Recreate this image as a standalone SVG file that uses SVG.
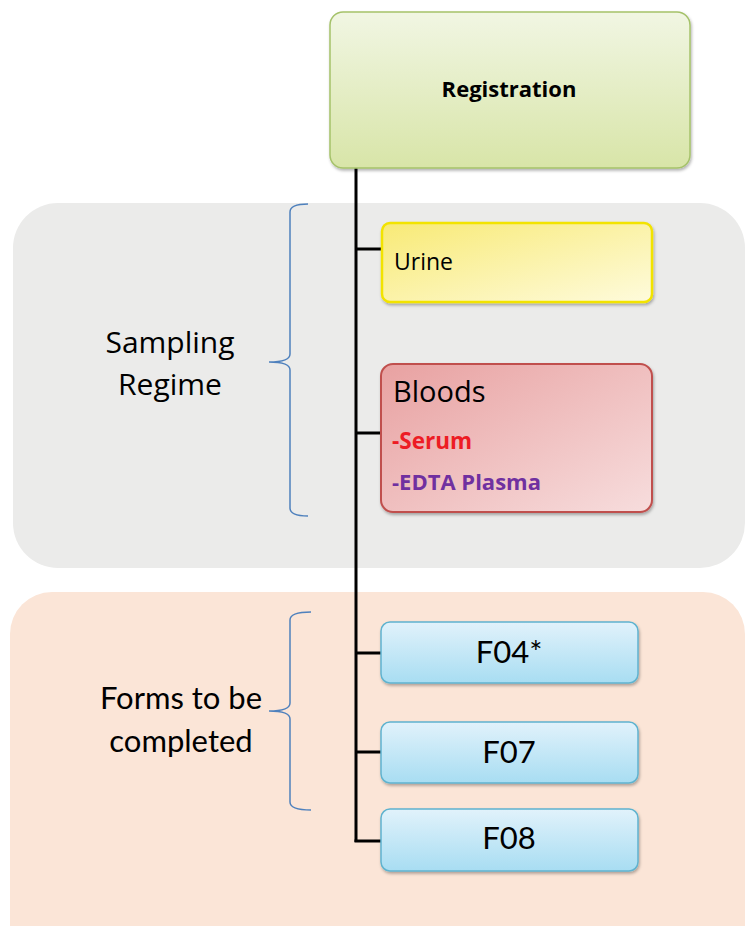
<svg xmlns="http://www.w3.org/2000/svg" width="745" height="926" viewBox="0 0 745 926">
<style>
.lbl{font-family:"Open Sans","Noto Sans","Liberation Sans",sans-serif;fill:#000}
.nar{font-family:Lato,"Open Sans","Liberation Sans",sans-serif;fill:#000}
.big{font-size:30px;text-anchor:middle}
.form{font-size:31px;text-anchor:middle}
.conn{stroke:#000;stroke-width:3;fill:none}
.brace{stroke:#4f81bd;stroke-width:1.5;fill:none}
</style>
<defs>
<linearGradient id="gReg" x1="0" y1="0" x2="0" y2="1"><stop offset="0" stop-color="#f1f6e3"/><stop offset="1" stop-color="#d8e5a8"/></linearGradient>
<linearGradient id="gUr" x1="0" y1="0" x2="1" y2="1"><stop offset="0" stop-color="#f8ea76"/><stop offset="1" stop-color="#fefbdc"/></linearGradient>
<linearGradient id="gBl" x1="0" y1="0" x2="1" y2="1"><stop offset="0" stop-color="#e8a1a1"/><stop offset="1" stop-color="#f7dddd"/></linearGradient>
<linearGradient id="gF" x1="0" y1="0" x2="0" y2="1"><stop offset="0" stop-color="#e1f2fb"/><stop offset="1" stop-color="#a8ddf2"/></linearGradient>
<filter id="sh" x="-10%" y="-10%" width="120%" height="130%"><feDropShadow dx="1" dy="2" stdDeviation="1.5" flood-color="#000" flood-opacity="0.3"/></filter>
</defs>
<g id="panels">
<rect x="13" y="203" width="732" height="365" rx="45" fill="#ebebea"/>
<rect x="10" y="592" width="735" height="380" rx="42" fill="#fbe5d7"/>
</g>
<g id="sampling-label">
<path class="brace" d="M308,204 Q290,204 290,212 L290,354 Q290,362 269,362 Q290,362 290,370 L290,508 Q290,516 308,516"/>
<text class="lbl big" x="170" y="353">Sampling</text>
<text class="lbl big" x="170" y="395">Regime</text>
</g>
<g id="forms-label">
<path class="brace" d="M311,612 Q290,612 290,620 L290,703 Q290,711 269,711 Q290,711 290,719 L290,802 Q290,810 311,810"/>
<text class="nar form" x="181" y="709">Forms to be</text>
<text class="nar form" x="181" y="752">completed</text>
</g>
<g id="connectors">
<path class="conn" d="M356,168 L356,842"/>
<path class="conn" d="M356,249 L382,249"/>
<path class="conn" d="M356,433 L381,433"/>
<path class="conn" d="M356,653 L381,653"/>
<path class="conn" d="M356,752 L381,752"/>
<path class="conn" d="M354.5,841 L381,841"/>
</g>
<g id="registration">
<rect x="330" y="12" width="360" height="156" rx="13" fill="url(#gReg)" stroke="#a5c26a" stroke-width="1.5" filter="url(#sh)"/>
<text class="lbl" x="509" y="97" font-size="22" font-weight="bold" text-anchor="middle">Registration</text>
</g>
<g id="urine">
<rect x="382" y="223" width="270" height="79" rx="8" fill="url(#gUr)" stroke="#f2e300" stroke-width="2.5" filter="url(#sh)"/>
<text class="lbl" x="394" y="270" font-size="23">Urine</text>
</g>
<g id="bloods">
<rect x="381" y="364" width="271" height="148" rx="12" fill="url(#gBl)" stroke="#c0504d" stroke-width="2" filter="url(#sh)"/>
<text class="lbl" x="393" y="402" font-size="29">Bloods</text>
<text class="lbl" x="392" y="449" font-size="22.5" font-weight="bold" style="fill:#ed1c24">-Serum</text>
<text class="lbl" x="392" y="490" font-size="22" font-weight="bold" style="fill:#7030a0">-EDTA Plasma</text>
</g>
<g id="f04">
<rect x="381" y="622" width="257" height="61" rx="9" fill="url(#gF)" stroke="#5fb3cf" stroke-width="1.5" filter="url(#sh)"/>
<text class="nar form" x="509" y="663">F04*</text>
</g>
<g id="f07">
<rect x="381" y="722" width="257" height="61" rx="9" fill="url(#gF)" stroke="#5fb3cf" stroke-width="1.5" filter="url(#sh)"/>
<text class="nar form" x="509" y="763">F07</text>
</g>
<g id="f08">
<rect x="381" y="809" width="257" height="62" rx="9" fill="url(#gF)" stroke="#5fb3cf" stroke-width="1.5" filter="url(#sh)"/>
<text class="nar form" x="509" y="849">F08</text>
</g>
</svg>
